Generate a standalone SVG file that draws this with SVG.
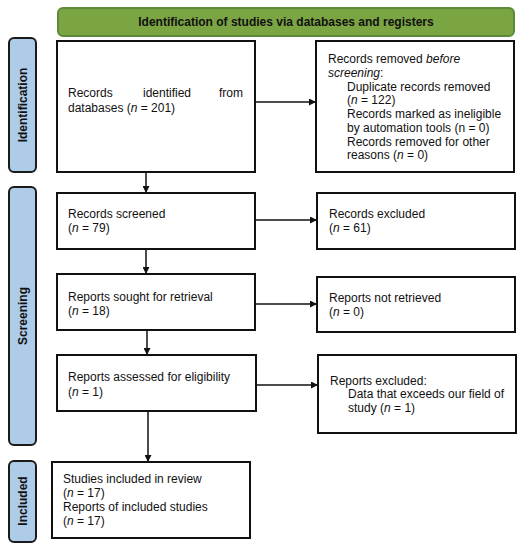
<svg xmlns="http://www.w3.org/2000/svg" width="522" height="547" viewBox="0 0 522 547">
<defs>
<style>
.box{fill:#fff;stroke:#111;stroke-width:2}
.side{fill:#aecbe8;stroke:#1a1a1a;stroke-width:2}
.hdr{fill:#7ba443;stroke:#5d8a3a;stroke-width:2}
text{font-family:"Liberation Sans",Arial,sans-serif;font-size:12px;fill:#111}
.b{font-weight:bold}
.con{stroke:#111;stroke-width:1.5;fill:none;marker-end:url(#ah)}
</style>
<marker id="ah" viewBox="0 0 10 10" refX="10" refY="5" markerWidth="7" markerHeight="7" markerUnits="userSpaceOnUse" orient="auto">
<path d="M0,0 L10,5 L0,10 z" fill="#111"/>
</marker>
</defs>
<rect width="522" height="547" fill="#fff"/>
<g id="header">
<rect class="hdr" x="58" y="8" width="456" height="28" rx="5"/>
<text class="b" x="286" y="26" text-anchor="middle">Identification of studies via databases and registers</text>
</g>
<g id="label-identification">
<rect class="side" x="9" y="38" width="27" height="134" rx="5"/>
<text class="b" transform="translate(27,105) rotate(-90)" text-anchor="middle">Identification</text>
</g>
<g id="label-screening">
<rect class="side" x="9" y="187" width="27" height="258" rx="5"/>
<text class="b" transform="translate(27,316) rotate(-90)" text-anchor="middle">Screening</text>
</g>
<g id="label-included">
<rect class="side" x="9" y="461" width="27" height="81" rx="5"/>
<text class="b" transform="translate(27,501) rotate(-90)" text-anchor="middle">Included</text>
</g>
<g id="records-identified">
<rect class="box" x="57" y="41" width="198" height="131"/>
<text x="68" y="97">Records</text>
<text x="143" y="97">identified</text>
<text x="243" y="97" text-anchor="end">from</text>
<text x="68" y="112">databases (<tspan font-style="italic">n</tspan> = 201)</text>
</g>
<g id="records-removed">
<rect class="box" x="316" y="41" width="198" height="131"/>
<text x="328" y="63">Records removed <tspan font-style="italic">before</tspan></text>
<text x="328" y="77"><tspan font-style="italic">screening</tspan>:</text>
<text x="347" y="91">Duplicate records removed</text>
<text x="347" y="104">(<tspan font-style="italic">n</tspan> = 122)</text>
<text x="347" y="118">Records marked as ineligible</text>
<text x="347" y="132">by automation tools (n = 0)</text>
<text x="347" y="146">Records removed for other</text>
<text x="347" y="159">reasons (<tspan font-style="italic">n</tspan> = 0)</text>
</g>
<g id="records-screened">
<rect class="box" x="57" y="193" width="198" height="56"/>
<text x="68" y="218">Records screened</text>
<text x="68" y="232">(<tspan font-style="italic">n</tspan> = 79)</text>
</g>
<g id="records-excluded">
<rect class="box" x="317" y="193" width="198" height="56"/>
<text x="329" y="218">Records excluded</text>
<text x="329" y="232">(<tspan font-style="italic">n</tspan> = 61)</text>
</g>
<g id="reports-sought">
<rect class="box" x="57" y="274" width="198" height="56"/>
<text x="68" y="301">Reports sought for retrieval</text>
<text x="68" y="315">(<tspan font-style="italic">n</tspan> = 18)</text>
</g>
<g id="reports-not-retrieved">
<rect class="box" x="317" y="277" width="198" height="55"/>
<text x="329" y="302">Reports not retrieved</text>
<text x="329" y="316">(<tspan font-style="italic">n</tspan> = 0)</text>
</g>
<g id="reports-assessed">
<rect class="box" x="57" y="355" width="199" height="56"/>
<text x="68" y="381">Reports assessed for eligibility</text>
<text x="68" y="396">(<tspan font-style="italic">n</tspan> = 1)</text>
</g>
<g id="reports-excluded">
<rect class="box" x="318" y="355" width="198" height="78"/>
<text x="330" y="385">Reports excluded:</text>
<text x="348" y="398">Data that exceeds our field of</text>
<text x="348" y="412">study (<tspan font-style="italic">n</tspan> = 1)</text>
</g>
<g id="studies-included">
<rect class="box" x="52" y="462" width="198" height="76"/>
<text x="63" y="483">Studies included in review</text>
<text x="63" y="497">(<tspan font-style="italic">n</tspan> = 17)</text>
<text x="63" y="511">Reports of included studies</text>
<text x="63" y="525">(<tspan font-style="italic">n</tspan> = 17)</text>
</g>
<g id="connectors">
<line class="con" x1="255" y1="102" x2="316" y2="102"/>
<line class="con" x1="146" y1="172" x2="146" y2="193"/>
<line class="con" x1="255" y1="220" x2="317" y2="220"/>
<line class="con" x1="146" y1="249" x2="146" y2="274"/>
<line class="con" x1="255" y1="304" x2="317" y2="304"/>
<line class="con" x1="147" y1="330" x2="147" y2="355"/>
<line class="con" x1="256" y1="385" x2="318" y2="385"/>
<line class="con" x1="148" y1="411" x2="148" y2="462"/>
</g>
</svg>
